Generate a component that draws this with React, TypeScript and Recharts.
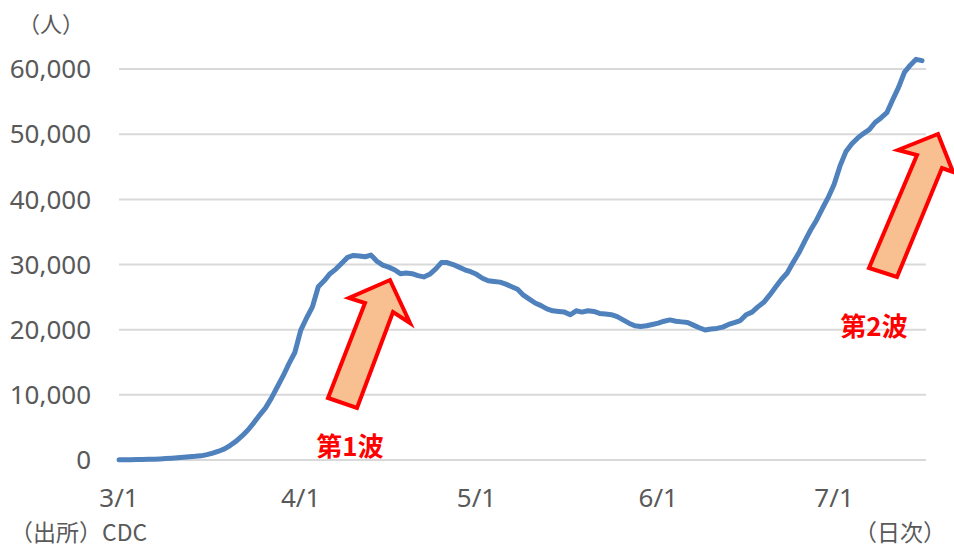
import React from "react";
import { LineChart, Line, XAxis, YAxis, CartesianGrid } from "recharts";

// 3/1 - 7/16, one label per day
const monthDays: [number, number][] = [
  [3, 31],
  [4, 30],
  [5, 31],
  [6, 30],
  [7, 16],
];

const dates: string[] = monthDays.flatMap(([m, n]) =>
  Array.from({ length: n }, (_, i) => `${m}/${i + 1}`)
);

// daily new cases (7-day average)
const cases = [
  20, 25, 40, 60, 80, 100, 130, 170, 220, 280,
  340, 420, 500, 560, 640, 820, 1050, 1350, 1700, 2250,
  2900, 3700, 4600, 5700, 6900, 8000, 9500, 11200, 12900, 14800,
  16500, 19900, 21800, 23500, 26600, 27500, 28600, 29300, 30200, 31100,
  31400, 31300, 31200, 31450, 30500, 29900, 29600, 29200, 28600, 28700,
  28600, 28300, 28100, 28500, 29300, 30300, 30300, 30000, 29600, 29200,
  28900, 28500, 27900, 27500, 27400, 27300, 27000, 26600, 26200, 25300,
  24700, 24100, 23700, 23200, 22900, 22800, 22700, 22300, 22900, 22700,
  22900, 22800, 22500, 22400, 22300, 22000, 21500, 21000, 20600, 20500,
  20600, 20800, 21000, 21300, 21500, 21300, 21200, 21100, 20700, 20300,
  19950, 20100, 20200, 20400, 20800, 21100, 21400, 22300, 22700, 23500,
  24200, 25300, 26500, 27700, 28700, 30300, 31800, 33600, 35300, 36800,
  38600, 40300, 42300, 45100, 47300, 48500, 49400, 50100, 50700, 51800,
  52500, 53300, 55300, 57200, 59500, 60600, 61500, 61300,
];

const xTicks = ["3/1", "4/1", "5/1", "6/1", "7/1"];
const yTicks = [0, 10000, 20000, 30000, 40000, 50000, 60000];

const data = dates.map((date, i) => ({ date, cases: cases[i] }));

const W = 954;
const H = 548;
const axisText = { fill: "#595959", fontSize: 26, fontFamily: "Noto Sans" };
const cjk = "Noto Sans CJK JP";

// block arrows for the annotations
const wave1 = "328,398 365,303 349,298 390,280 410,323 393,312 357,408";
const wave2 = "869,268 917,155 898,150 938,134 953,172 942,168 897,277";

export default function App() {
  return (
    <div style={{ position: "absolute", left: 0, top: 0, width: W, height: H, background: "#fff" }}>
      <LineChart
        width={W}
        height={H}
        data={data}
        margin={{ top: 30, right: 28, bottom: 48, left: 0 }}
      >
        <CartesianGrid
          vertical={false}
          horizontalValues={yTicks}
          stroke="#D9D9D9"
          strokeWidth={2}
        />
        <XAxis
          dataKey="date"
          ticks={xTicks}
          interval={0}
          axisLine={false}
          tickLine={false}
          tickSize={0}
          tickMargin={29}
          height={40}
          padding={{ left: 0, right: 4 }}
          tick={axisText}
        />
        <YAxis
          domain={[0, 66000]}
          ticks={yTicks}
          width={119}
          axisLine={false}
          tickLine={false}
          tickSize={0}
          tickMargin={28}
          tick={axisText}
          tickFormatter={(v: number) => v.toLocaleString("en-US")}
        />
        <Line
          type="linear"
          dataKey="cases"
          stroke="#4F81BD"
          strokeWidth={5}
          strokeLinejoin="round"
          strokeLinecap="round"
          dot={false}
          activeDot={false}
          isAnimationActive={false}
        />
      </LineChart>
      <svg
        width={W}
        height={H}
        style={{ position: "absolute", left: 0, top: 0, pointerEvents: "none" }}
      >
        <text x={51} y={32} fontSize={22} fontFamily={cjk} fill="#595959" textAnchor="middle">
          （人）
        </text>
        <text x={10} y={541} fontSize={23} fontFamily={cjk} fill="#595959">
          （出所）CDC
        </text>
        <text x={946} y={541} fontSize={23} fontFamily={cjk} fill="#595959" textAnchor="end">
          （日次）
        </text>
        <polygon points={wave1} fill="#F8C091" stroke="#FF0000" strokeWidth={4} />
        <polygon points={wave2} fill="#F8C091" stroke="#FF0000" strokeWidth={4} />
        <text x={350} y={456} fontSize={26} fontWeight={700} fontFamily={cjk} fill="#FF0000" textAnchor="middle">
          第1波
        </text>
        <text x={874} y={336} fontSize={26} fontWeight={700} fontFamily={cjk} fill="#FF0000" textAnchor="middle">
          第2波
        </text>
      </svg>
    </div>
  );
}
